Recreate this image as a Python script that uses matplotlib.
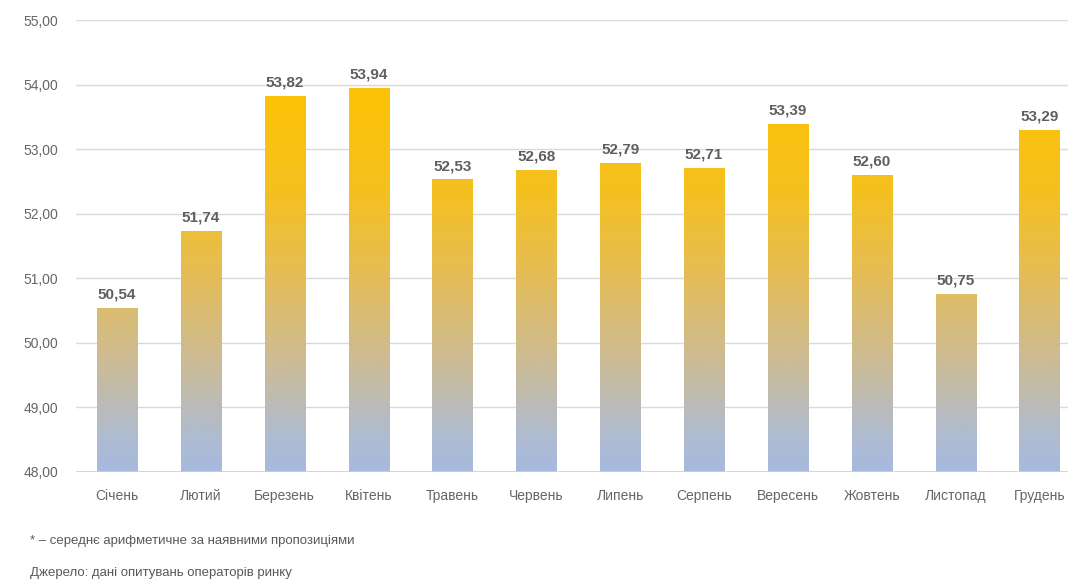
import matplotlib
matplotlib.use("Agg")
import matplotlib.pyplot as plt
import numpy as np
from matplotlib.colors import LinearSegmentedColormap

months = ["Січень", "Лютий", "Березень", "Квітень", "Травень", "Червень",
          "Липень", "Серпень", "Вересень", "Жовтень", "Листопад", "Грудень"]
values = [50.54, 51.74, 53.82, 53.94, 52.53, 52.68, 52.79, 52.71, 53.39, 52.60, 50.75, 53.29]
yticks = [48, 49, 50, 51, 52, 53, 54, 55]
note1 = "* – середнє арифметичне за наявними пропозиціями"
note2 = "Джерело: дані опитувань операторів ринку"

plt.rcParams['font.family'] = ['Liberation Sans', 'DejaVu Sans']

fig = plt.figure(figsize=(10.75, 5.88), dpi=100)
ax = fig.add_axes([76/1075, 1 - 472/588, (1068-76)/1075, (472-20)/588])

ymin, ymax = 48, 55
ax.set_ylim(ymin, ymax)
ax.set_xlim(-0.49, 11.34)

cmap = LinearSegmentedColormap.from_list(
    "grad",
    [(0.0, "#a6badf"), (0.07, "#aebbd2"), (0.25, "#cdbb93"), (0.45, "#e6bd52"),
     (0.62, "#f4c020"), (0.8, "#fcc20a"), (1.0, "#ffc300")])
grad = np.linspace(0, 1, 512).reshape(-1, 1)

width = 0.48
x = np.arange(len(months))
bars = ax.bar(x, [v - ymin for v in values], bottom=ymin, width=width, color="none", zorder=2)
for b, v in zip(bars, values):
    im = ax.imshow(grad, extent=[b.get_x(), b.get_x() + b.get_width(), ymin, ymax],
                   origin="lower", cmap=cmap, aspect="auto", zorder=2)
    im.set_clip_path(b)
    ax.text(b.get_x() + b.get_width() / 2, v + 0.1, f"{v:.2f}".replace(".", ","),
            ha="center", va="bottom", fontsize=11, color="#5f5f5f", fontweight="bold")

ax.set_yticks(yticks)
ax.set_yticklabels([f"{t:.2f}".replace(".", ",") for t in yticks])
ax.set_xticks(x)
ax.set_xticklabels(months)
ax.tick_params(axis="both", length=0, labelsize=10, colors="#666666")
ax.tick_params(axis="y", pad=13)
ax.tick_params(axis="x", pad=20)
for lab in ax.get_xticklabels():
    lab.set_verticalalignment("baseline")
ax.grid(axis="y", color="#d9d9d9", linewidth=1, zorder=0)
ax.set_axisbelow(True)
for s in ax.spines.values():
    s.set_visible(False)
ax.axhline(ymin, color="#d0d0d0", linewidth=1.2, zorder=3)

fig.text(30/1075, 1 - 541/588, note1, fontsize=9.5, color="#595959", va="center")
fig.text(30/1075, 1 - 573/588, note2, fontsize=9.5, color="#595959", va="center")

fig.savefig("out.png", dpi=100)
